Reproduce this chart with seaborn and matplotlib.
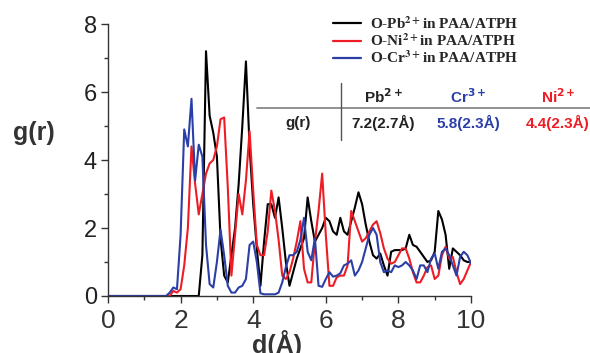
import numpy as np
import pandas as pd
import seaborn as sns
import matplotlib
matplotlib.use('Agg')
from matplotlib import pyplot as plt
from matplotlib.lines import Line2D

# radial distances, 0.1 A steps
r = np.round(np.arange(0, 10.01, 0.1), 1)

g_pb = [0] * 26 + [
    1.2, 7.2, 5.3, 4.8, 4.1, 1.7, 0.6, 0.4, 1.2, 2.0,
    3.3, 5.0, 6.9, 4.4, 2.7, 1.4, 0.3, 1.6, 2.7, 2.7,
    2.3, 2.9, 2.0, 1.0, 0.3, 0.7, 1.1, 1.4, 1.7, 2.9,
    2.2, 1.6, 1.8, 2.0, 2.3, 2.2, 1.9, 1.8, 2.3, 1.9,
    1.8, 2.2, 2.6, 3.05, 2.7, 2.1, 1.6, 1.2, 1.1, 1.25,
    0.9, 0.6, 1.3, 1.35, 1.35, 1.35, 1.4, 1.8, 1.5, 1.45,
    1.3, 1.15, 1.0, 1.05, 1.3, 2.5, 2.25, 1.8, 0.8, 1.4,
    1.3, 1.2, 1.05, 1.0, 1.0]

g_ni = [0] * 18 + [
    0.15, 0.1, 0.2, 0.9, 2.0, 4.4, 3.3, 2.4, 3.0, 3.6,
    3.9, 4.0, 4.4, 5.2, 5.25, 3.2, 0.6, 1.8, 3.0, 2.4,
    3.4, 4.85, 3.1, 1.5, 1.2, 1.2, 1.9, 3.1, 2.5, 1.65,
    0.6, 0.5, 0.7, 1.1, 1.6, 2.2, 0.8, 0.4, 0.4, 1.6,
    2.5, 3.6, 1.8, 0.3, 0.3, 0.55, 0.6, 0.6, 0.9, 2.5,
    2.2, 1.9, 1.6, 1.7, 1.9, 2.1, 2.2, 1.85, 1.4, 1.1,
    0.95, 1.0, 1.2, 1.4, 1.4, 1.1, 0.7, 0.4, 0.4, 0.6,
    0.85, 0.9, 0.5, 0.6, 1.2, 1.45, 1.1, 1.15, 0.7, 0.35,
    0.5, 0.75, 1.0]

g_cr = [0] * 17 + [
    0.1, 0.25, 0.2, 1.8, 4.9, 4.4, 5.8, 3.4, 4.45, 4.1,
    1.5, 0.35, 0.25, 1.0, 1.95, 1.2, 0.3, 0.1, 0.1, 0.25,
    0.3, 0.5, 1.5, 1.6, 1.0, 0.08, 0.05, 0.05, 0.05, 0.05,
    0.1, 0.4, 0.85, 1.2, 1.2, 1.3, 1.65, 2.3, 1.3, 1.05,
    1.7, 0.3, 0.27, 0.5, 0.7, 0.57, 0.6, 0.67, 0.9, 0.95,
    1.05, 0.6, 0.75, 1.0, 1.4, 1.8, 2.0, 1.8, 1.0, 0.7,
    0.75, 0.7, 0.9, 0.85, 0.9, 1.0, 0.9, 0.75, 0.5, 0.9,
    0.9, 0.7, 1.1, 1.25, 0.8, 1.3, 1.4, 1.2, 0.9, 0.6,
    1.15, 1.3, 1.2, 0.96]

labels = ['O-Pb$^{\\mathbf{2+}}$in PAA/ATPH',
          'O-Ni$^{\\mathbf{2+}}$in PAA/ATPH',
          'O-Cr$^{\\mathbf{3+}}$in PAA/ATPH']
colors = ['#000000', '#ee1c25', '#2b3fa6']

# table values
ions = ['Pb$^{\\mathbf{2+}}$', 'Cr$^{\\mathbf{3+}}$', 'Ni$^{\\mathbf{2+}}$']
peaks = ['7.2(2.7Å)', '5.8(2.3Å)', '4.4(2.3Å)']
ion_colors = ['#222222', '#2b3fa6', '#ee1c25']

df = pd.DataFrame({
    'r': np.concatenate([r, r, r]),
    'g': np.concatenate([g_pb, g_ni, g_cr]),
    'pair': np.repeat(labels, len(r)),
})

sns.set_style('ticks')
plt.rcParams['font.family'] = ['Liberation Sans', 'DejaVu Sans']
plt.rcParams['mathtext.fontset'] = 'stix'

fig = plt.figure(figsize=(5.9, 3.53), dpi=100)
ax = fig.add_axes([108 / 590, 1 - 296 / 353, 363 / 590, 272 / 353])

sns.lineplot(data=df, x='r', y='g', hue='pair', palette=colors,
             linewidth=1.5, legend=False, ax=ax)

ax.set_xlim(0, 10)
ax.set_ylim(0, 8)
ax.set_xticks([0, 2, 4, 6, 8, 10])
ax.set_xticks(np.arange(1, 10, 2), minor=True)
ax.set_yticks([0, 2, 4, 6, 8])
ax.set_yticks(np.arange(1, 8, 2), minor=True)
ax.tick_params(axis='x', which='major', labelsize=19, length=5, width=1,
               pad=4, colors='#333333', labelcolor='#333333')
ax.tick_params(axis='y', which='major', labelsize=17, length=5, width=1,
               pad=3, colors='#333333', labelcolor='#222222')
ax.tick_params(which='minor', length=3, width=1, colors='#333333')
for s in ['left', 'bottom']:
    ax.spines[s].set_color('#333333')
    ax.spines[s].set_linewidth(1)
sns.despine(ax=ax)
ax.set_xlabel('')
ax.set_ylabel('')

fig.text(34 / 590, 1 - 133 / 353, 'g(r)', fontsize=18, fontweight='bold',
         color='#333333', ha='center', va='center')
fig.text(277 / 590, 1 - 330 / 353, 'd(Å)', fontsize=18, fontweight='bold',
         color='#333333', ha='center', va='top')

handles = [Line2D([], [], color=c, lw=1.6) for c in colors]
ax.legend(handles, labels, loc='upper left', bbox_to_anchor=(333 / 590, 1 - 15 / 353),
          bbox_transform=fig.transFigure, frameon=False, borderpad=0,
          borderaxespad=0, handlelength=1.8, handletextpad=0.6, labelspacing=0.05,
          prop={'family': 'Liberation Serif', 'weight': 'bold', 'size': 11})

# small table of first peaks
fig.add_artist(Line2D([257 / 590, 1], [1 - 108 / 353] * 2, color='#888888', lw=1.3))
fig.add_artist(Line2D([341 / 590] * 2, [1 - 83 / 353, 1 - 140 / 353], color='#555555', lw=1.0))
cols = [383, 468, 558]
for cx, ion, pk, c in zip(cols, ions, peaks, ion_colors):
    fig.text(cx / 590, 1 - 97 / 353, ion, fontsize=11, fontweight='bold', color=c,
             ha='center', va='center', math_fontfamily='dejavusans')
    fig.text(cx / 590, 1 - 123 / 353, pk, fontsize=11, fontweight='bold', color=c,
             ha='center', va='center')
fig.text(298 / 590, 1 - 123 / 353, 'g(r)', fontsize=11, fontweight='bold',
         color='#222222', ha='center', va='center')

fig.savefig('out.png', dpi=100)
